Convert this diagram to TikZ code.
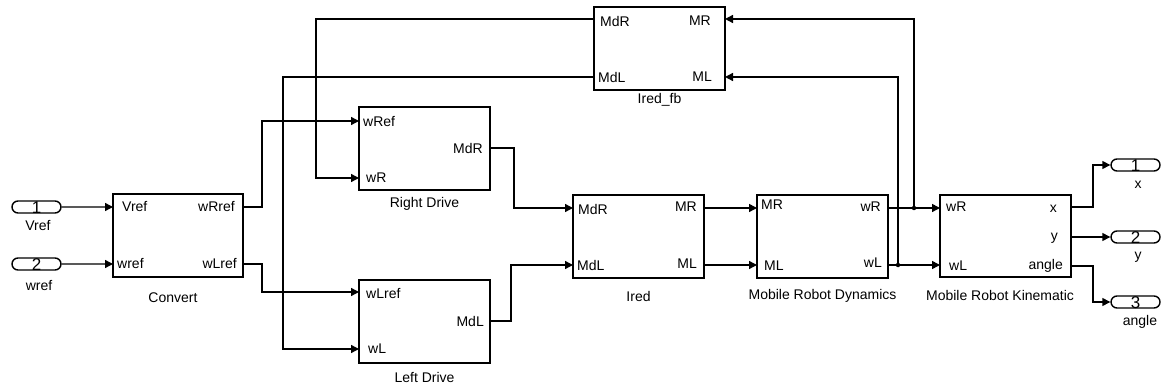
\documentclass[tikz,border=0pt]{standalone}
\usepackage{fontspec}
\setmainfont{Liberation Sans}
\usetikzlibrary{arrows.meta,shapes.misc}
\begin{document}
\begin{tikzpicture}[x=1pt,y=-1pt,
  every node/.style={font=\fontsize{14}{16}\selectfont, inner sep=0pt},
  blk/.style={draw, line width=1.4pt, minimum width=131pt, minimum height=83pt},
  ioport/.style={draw, line width=1.4pt, rounded rectangle, minimum width=49pt, minimum height=12pt, text height=0pt, text depth=0pt, font=\fontsize{17}{17}\selectfont},
  wire/.style={line width=1.4pt},
  arr/.style={wire, -{Triangle[length=8pt,width=8pt]}},
  dot/.style={circle, fill, inner sep=0pt, minimum size=4.5pt}
]
\useasboundingbox (0,0) rectangle (1161,387);

% inports
\node[ioport] (in1) at (36.5,207) {};
\node at (36.5,207.5) {\fontsize{17}{17}\selectfont 1};
\node at (38,226) {Vref};
\node[ioport] (in2) at (36.5,264) {};
\node at (36.5,264.5) {\fontsize{17}{17}\selectfont 2};
\node at (39,286) {wref};

% blocks
\node[blk, minimum width=130pt] (conv) at (178,235.5) {};
\node at (173,298) {Convert};
\node[blk] (rd) at (424.5,148.5) {};
\node at (424.5,204) {Right Drive};
\node[blk] (ld) at (424.5,321.5) {};
\node at (424.5,377) {Left Drive};
\node[blk] (fb) at (659.5,48.5) {};
\node at (659.5,100) {Ired\_fb};
\node[blk] (ired) at (638.5,236.5) {};
\node at (638.5,296) {Ired};
\node[blk] (dyn) at (822.5,236.5) {};
\node at (822.5,296) {Mobile Robot Dynamics};
\node[blk, minimum height=82pt] (kin) at (1005.5,236) {};
\node at (1000,295) {Mobile Robot Kinematic};

% outports
\node[ioport] (out1) at (1135.5,165) {};
\node at (1135.5,165.5) {\fontsize{17}{17}\selectfont 1};
\node at (1138,185) {x};
\node[ioport] (out2) at (1135.5,237) {};
\node at (1135.5,237.5) {\fontsize{17}{17}\selectfont 2};
\node at (1138,257) {y};
\node[ioport] (out3) at (1135.5,302) {};
\node at (1135.5,302.5) {\fontsize{17}{17}\selectfont 3};
\node at (1140,322) {angle};

% port coordinates
\coordinate (conv-i1) at (113,207);
\coordinate (conv-i2) at (113,264);
\coordinate (conv-o1) at (243,207);
\coordinate (conv-o2) at (243,264);
\coordinate (rd-i1) at (359,121);
\coordinate (rd-i2) at (359,178);
\coordinate (rd-o1) at (490,148);
\coordinate (ld-i1) at (359,292);
\coordinate (ld-i2) at (359,349);
\coordinate (ld-o1) at (490,321);
\coordinate (fb-o1) at (594,19);
\coordinate (fb-o2) at (594,77);
\coordinate (fb-i1) at (725,19);
\coordinate (fb-i2) at (725,77);
\coordinate (ired-i1) at (573,208);
\coordinate (ired-i2) at (573,265);
\coordinate (ired-o1) at (704,208);
\coordinate (ired-o2) at (704,265);
\coordinate (dyn-i1) at (757,208);
\coordinate (dyn-i2) at (757,265);
\coordinate (dyn-o1) at (888,208);
\coordinate (dyn-o2) at (888,265);
\coordinate (kin-i1) at (940,208);
\coordinate (kin-i2) at (940,265);
\coordinate (kin-o1) at (1071,207);
\coordinate (kin-o2) at (1071,237);
\coordinate (kin-o3) at (1071,266);
\coordinate (jR) at (914,208);
\coordinate (jL) at (898,265);

% port labels
\node[anchor=west] at (122,207) {Vref};
\node[anchor=west] at (117,264) {wref};
\node[anchor=east] at (235,207) {wRref};
\node[anchor=east] at (237,264) {wLref};
\node[anchor=west] at (363,122) {wRef};
\node[anchor=west] at (366,178) {wR};
\node[anchor=east] at (483,148) {MdR};
\node[anchor=west] at (366,294) {wLref};
\node[anchor=west] at (368,349) {wL};
\node[anchor=east] at (484,321) {MdL};
\node[anchor=west] at (600,21) {MdR};
\node[anchor=west] at (598,77) {MdL};
\node[anchor=east] at (711,21) {MR};
\node[anchor=east] at (712,77) {ML};
\node[anchor=west] at (578,209) {MdR};
\node[anchor=west] at (577,265) {MdL};
\node[anchor=east] at (697,207) {MR};
\node[anchor=east] at (697,264) {ML};
\node[anchor=west] at (761,205) {MR};
\node[anchor=west] at (764,266) {ML};
\node[anchor=east] at (881,207) {wR};
\node[anchor=east] at (882,263) {wL};
\node[anchor=west] at (946,207) {wR};
\node[anchor=west] at (949,266) {wL};
\node[anchor=east] at (1057,209) {x};
\node[anchor=east] at (1058,238) {y};
\node[anchor=east] at (1063,266) {angle};

% wires
\draw[arr] (in1) -- (conv-i1);
\draw[arr] (in2) -- (conv-i2);
\draw[arr] (conv-o1) -- (262,207) |- (rd-i1);
\draw[arr] (conv-o2) -- (262,264) |- (ld-i1);
\draw[arr] (fb-o1) -- (316,19) |- (rd-i2);
\draw[arr] (fb-o2) -- (283,77) |- (ld-i2);
\draw[arr] (rd-o1) -- (514,148) |- (ired-i1);
\draw[arr] (ld-o1) -- (511,321) |- (ired-i2);
\draw[arr] (ired-o1) -- (dyn-i1);
\draw[arr] (ired-o2) -- (dyn-i2);
\draw[arr] (dyn-o1) -- (kin-i1);
\draw[arr] (dyn-o2) -- (kin-i2);
\draw[arr] (jR) |- (fb-i1);
\draw[arr] (jL) |- (fb-i2);
\node[dot] at (jR) {};
\node[dot] at (jL) {};
\draw[arr] (kin-o1) -- (1093,207) |- (out1.west);
\draw[arr] (kin-o2) -- (out2.west);
\draw[arr] (kin-o3) -- (1093,266) |- (out3.west);
\end{tikzpicture}
\end{document}
